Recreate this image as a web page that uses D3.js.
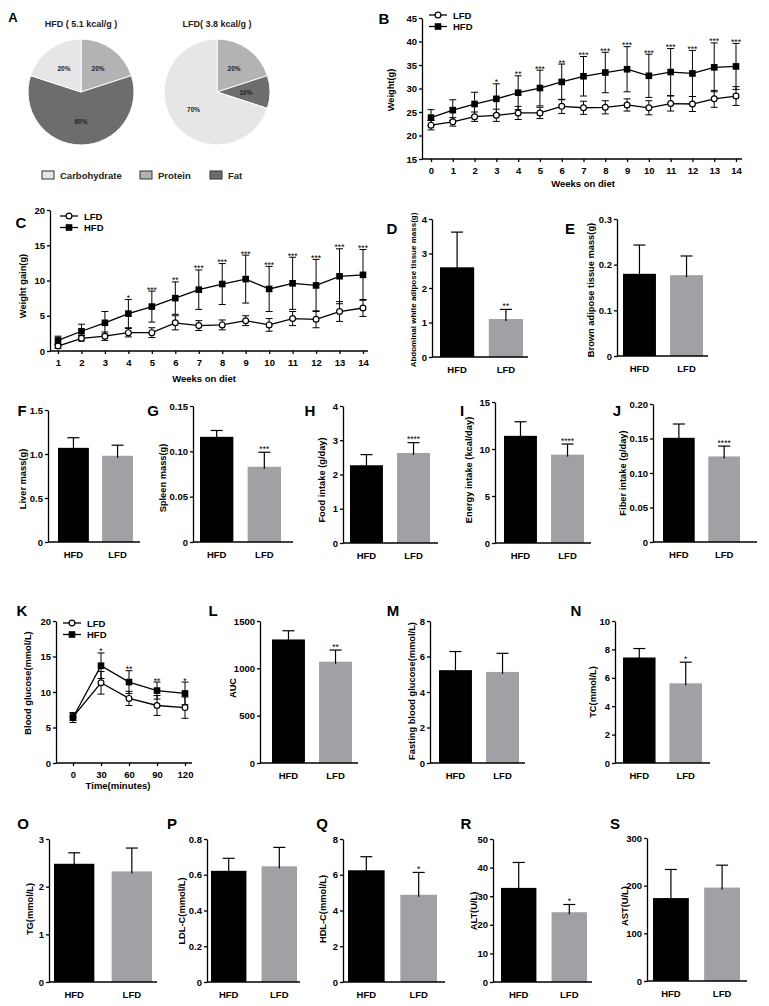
<!DOCTYPE html>
<html><head><meta charset="utf-8">
<script src="https://cdn.jsdelivr.net/npm/d3@7"></script>
<style>
body{margin:0;background:#fff}
svg{display:block;font-family:"Liberation Sans",Arial,sans-serif;font-weight:bold}
</style>
</head><body>
<svg id="c" width="769" height="1006"></svg>
<script>
// ---------------- DATA ----------------
const dietCategories = ["Carbohydrate","Protein","Fat"];
const hfdEnergyPct = [20,20,60];
const lfdEnergyPct = [70,20,10];
const pieTitles = ["HFD ( 5.1 kcal/g )","LFD( 3.8 kcal/g )"];

const groups = ["LFD","HFD"];

const weeksB = [0,1,2,3,4,5,6,7,8,9,10,11,12,13,14];
const weightHFD   = [23.8,25.4,26.7,27.8,29.1,30.1,31.4,32.6,33.4,34.1,32.7,33.5,33.2,34.5,34.7];
const weightHFDsd = [1.7,2.2,2.5,3.2,3.6,3.8,3.8,4.2,4.3,4.8,4.6,5.0,4.9,5.2,4.9];
const weightLFD   = [22.2,22.9,24.0,24.3,24.8,24.8,26.2,25.9,26.0,26.5,25.9,26.8,26.7,27.8,28.4];
const weightLFDsd = [1.0,0.9,1.0,1.3,1.4,1.2,1.5,1.4,1.4,1.3,1.5,1.6,1.6,1.8,2.0];
const weightStars = ["","","","*","**","***","**","***","***","***","***","***","***","***","***"];
const weightTicks = ["15","20","25","30","35","40","45"];

const weeksC = [1,2,3,4,5,6,7,8,9,10,11,12,13,14];
const gainHFD   = [1.5,2.8,4.0,5.3,6.3,7.5,8.7,9.5,10.2,8.8,9.6,9.3,10.6,10.8];
const gainHFDsd = [0.6,1.0,1.6,2.0,2.2,2.3,2.8,2.9,3.4,3.2,3.7,3.7,3.9,3.6];
const gainLFD   = [0.7,1.8,2.1,2.6,2.6,4.0,3.6,3.7,4.3,3.7,4.6,4.5,5.6,6.1];
const gainLFDsd = [0.3,0.4,0.6,0.6,0.7,1.0,0.7,0.7,0.7,0.9,1.0,1.2,1.4,1.2];
const gainStars = ["","","","*","***","**","***","***","***","***","***","***","***","***"];
const gainTicks = ["0","5","10","15","20"];

const ogttTimes = [0,30,60,90,120];
const glucoseHFD   = [6.4,13.7,11.4,10.2,9.8];
const glucoseHFDsd = [0.7,1.8,1.6,1.2,1.6];
const glucoseLFD   = [6.5,11.3,9.1,8.1,7.8];
const glucoseLFDsd = [0.5,1.6,1.0,1.4,1.5];
const glucoseStars = ["","*","**","**","*"];
const glucoseTicks = ["0","5","10","15","20"];

const barGroups = ["HFD","LFD"];
const barPanels = ["D","E","F","G","H","I","J","L","M","N","O","P","Q","R","S"];
const barYLabels = ["Abdominal white adipose tissue mass(g)","Brown adipose tissue mass(g)","Liver mass(g)",
  "Spleen mass(g)","Food intake (g/day)","Energy intake (kcal/day)","Fiber intake (g/day)","AUC",
  "Fasting blood glucose(mmol/L)","TC(mmol/L)","TG(mmol/L)","LDL-C(mmol/L)","HDL-C(mmol/L)","ALT(U/L)","AST(U/L)"];
const barHFD   = [2.6, 0.180, 1.07, 0.116, 2.27, 11.4, 0.151, 1305, 5.23, 7.43, 2.48, 0.622, 6.25, 32.9, 174];
const barHFDsd = [1.02,0.063, 0.115,0.007, 0.31, 1.5,  0.020, 92,   1.05, 0.63, 0.23, 0.070, 0.76, 8.9,  60];
const barLFD   = [1.10,0.177, 0.98, 0.083, 2.63, 9.4,  0.124, 1070, 5.13, 5.61, 2.32, 0.647, 4.88, 24.4, 196];
const barLFDsd = [0.28,0.042, 0.12, 0.016, 0.30, 1.13, 0.015, 123,  1.05, 1.49, 0.49, 0.106, 1.25, 2.7,  47];
const barStars = ["**","","","***","****","****","****","**","","*","","","*","*",""];
const barTickLabels = [
  ["0","1","2","3","4"],["0","0.1","0.2","0.3"],["0","0.5","1.0","1.5"],["0","0.05","0.10","0.15"],
  ["0","1","2","3","4"],["0","5","10","15"],["0","0.05","0.10","0.15","0.20"],["0","500","1000","1500"],
  ["0","2","4","6","8"],["0","2","4","6","8","10"],["0","1","2","3"],["0","0.2","0.4","0.6","0.8"],
  ["0","2","4","6","8"],["0","10","20","30","40","50"],["0","100","200","300"]];

// ---------------- LAYOUT ----------------
const barLayout = [
  {ax:432,b0:440,b1:523,end:528,yTop:219,yBot:357,lx:392,ly:228,yx:413,yy:290,fs:8},
  {ax:617,b0:623,b1:703,end:708,yTop:219,yBot:356,lx:570,ly:228,yx:591,yy:290,fs:9.3},
  {ax:48,b0:58,b1:133,end:140,yTop:410,yBot:542,lx:22,ly:410,yx:23,yy:479,fs:9.3},
  {ax:193,b0:200,b1:281,end:293,yTop:406,yBot:542,lx:153,ly:410,yx:163,yy:478,fs:9.3},
  {ax:343,b0:350,b1:430,end:438,yTop:406,yBot:543,lx:310,ly:410,yx:322,yy:480,fs:9.3},
  {ax:495,b0:504,b1:584,end:591,yTop:402,yBot:543,lx:462,ly:410,yx:469,yy:470,fs:9.3},
  {ax:653,b0:663,b1:740,end:757,yTop:404,yBot:542,lx:617,ly:410,yx:623,yy:473,fs:9.3},
  {ax:260,b0:272,b1:352,end:358,yTop:621,yBot:763,lx:213,ly:610,yx:233,yy:688,fs:9.3},
  {ax:430,b0:439,b1:519,end:525,yTop:621,yBot:763,lx:393,ly:610,yx:412,yy:691,fs:9.3},
  {ax:615,b0:623,b1:702,end:710,yTop:621,yBot:763,lx:576,ly:610,yx:593,yy:692,fs:9.3},
  {ax:49,b0:54,b1:152,end:157,yTop:839,yBot:982,lx:23,ly:823,yx:30,yy:909,fs:9.3},
  {ax:207,b0:211,b1:297,end:300,yTop:839,yBot:982,lx:172,ly:823,yx:182,yy:911,fs:9.3},
  {ax:343,b0:348,b1:437,end:445,yTop:839,yBot:982,lx:322,ly:823,yx:323,yy:909,fs:9.3},
  {ax:493,b0:501,b1:587,end:592,yTop:839,yBot:982,lx:466,ly:823,yx:474,yy:911,fs:9.3},
  {ax:647,b0:653,b1:740,end:747,yTop:838,yBot:981,lx:615,ly:823,yx:625,yy:906,fs:9.3}
];
const LFD_GRAY = "#a0a0a5";
const svg = d3.select("#c");

function letter(t,x,y,fs){
  svg.append("text").attr("x",x).attr("y",y).attr("text-anchor","middle")
    .attr("dominant-baseline","central").attr("font-size",fs||15).text(t);
}
function yLabel(t,x,y,fs){
  svg.append("text").attr("transform",`translate(${x},${y}) rotate(-90)`)
    .attr("text-anchor","middle").attr("dominant-baseline","central").attr("font-size",fs).text(t);
}
function styleAxis(g){
  g.attr("font-family",null).attr("font-size",9.5).attr("font-weight","bold");
  g.selectAll("path,line").attr("stroke","#000").attr("stroke-width",1.3);
  g.selectAll("text").attr("fill","#000");
}

// ---------------- PANEL A (pies) ----------------
letter("A",13,17,13);
const pieR = 53;
const pieCenters = [[81,92],[217,92]];
const pieDrawOrder = ["Protein","Fat","Carbohydrate"];
const pieColor = d3.scaleOrdinal().domain(dietCategories).range(["#e6e6e6","#b3b3b3","#6d6d6d"]);
[hfdEnergyPct, lfdEnergyPct].forEach((pct,k)=>{
  const data = pieDrawOrder.map(c=>({cat:c, v:pct[dietCategories.indexOf(c)]}));
  const arcs = d3.pie().sort(null).value(d=>d.v)(data);
  const g = svg.append("g").attr("transform",`translate(${pieCenters[k][0]},${pieCenters[k][1]})`);
  g.selectAll("path").data(arcs).join("path")
    .attr("d", d3.arc().innerRadius(0).outerRadius(pieR))
    .attr("fill",d=>pieColor(d.data.cat)).attr("stroke","#fff").attr("stroke-width",1);
  const la = d3.arc().innerRadius(29).outerRadius(29);
  g.selectAll("text").data(arcs).join("text")
    .attr("transform",d=>`translate(${la.centroid(d)})`)
    .attr("text-anchor","middle").attr("dominant-baseline","central")
    .attr("font-size",6.5).attr("fill","#222").text(d=>d.data.v+"%");
  svg.append("text").attr("x",pieCenters[k][0]).attr("y",27).attr("text-anchor","middle")
    .attr("font-size",9).attr("fill","#222").text(pieTitles[k]);
});
const legX = [42,140,210];
dietCategories.forEach((c,i)=>{
  svg.append("rect").attr("x",legX[i]).attr("y",171).attr("width",12).attr("height",8)
    .attr("fill",pieColor(c)).attr("stroke","#333").attr("stroke-width",1);
  svg.append("text").attr("x",legX[i]+18).attr("y",179).attr("font-size",9.5).attr("fill","#222").text(c);
});

// ---------------- LINE PANELS ----------------
function linePanel(L, xs, hfd, hfdSd, lfd, lfdSd, stars, yTickLabels){
  const x = d3.scaleLinear().domain(L.xDom).range(L.xRange);
  const yv = yTickLabels.map(Number);
  const y = d3.scaleLinear().domain([yv[0], yv[yv.length-1]]).range([L.yBot, L.yTop]);
  // y axis
  const ga = svg.append("g").attr("transform",`translate(${L.ax},0)`)
    .call(d3.axisLeft(y).tickValues(yv).tickFormat((d,i)=>yTickLabels[i]).tickSize(3).tickSizeOuter(0).tickPadding(2));
  styleAxis(ga);
  // x axis
  const gx = svg.append("g").attr("transform",`translate(0,${L.yBot})`)
    .call(d3.axisBottom(x).tickValues(xs).tickFormat(d=>d).tickSize(3).tickPadding(5));
  gx.select(".domain").remove();
  styleAxis(gx);
  svg.append("line").attr("x1",L.ax).attr("x2",L.end).attr("y1",L.yBot).attr("y2",L.yBot)
    .attr("stroke","#000").attr("stroke-width",1.3);
  svg.append("text").attr("x",L.xlx).attr("y",L.xly).attr("text-anchor","middle").attr("font-size",9.5).text(L.xLabel);
  yLabel(L.yLabel, L.ylx, L.yly, 9.3);
  letter(L.letter, L.lx, L.ly);
  const series = [{m:lfd,s:lfdSd,g:"LFD"},{m:hfd,s:hfdSd,g:"HFD"}];
  const cap = 3.5;
  series.forEach(S=>{
    const g = svg.append("g").attr("stroke","#000").attr("stroke-width",1);
    xs.forEach((xv,i)=>{
      const cx = x(xv), t = y(S.m[i]+S.s[i]), b = y(S.m[i]-S.s[i]);
      g.append("line").attr("x1",cx).attr("x2",cx).attr("y1",t).attr("y2",b);
      g.append("line").attr("x1",cx-cap).attr("x2",cx+cap).attr("y1",t).attr("y2",t);
      g.append("line").attr("x1",cx-cap).attr("x2",cx+cap).attr("y1",b).attr("y2",b);
    });
  });
  series.forEach(S=>{
    svg.append("path").datum(xs.map((xv,i)=>[xv,S.m[i]]))
      .attr("d", d3.line().x(d=>x(d[0])).y(d=>y(d[1])))
      .attr("fill","none").attr("stroke","#000").attr("stroke-width",1.3);
    xs.forEach((xv,i)=>{
      if (S.g==="LFD") svg.append("circle").attr("cx",x(xv)).attr("cy",y(S.m[i])).attr("r",2.9)
          .attr("fill","#fff").attr("stroke","#000").attr("stroke-width",1.2);
      else svg.append("rect").attr("x",x(xv)-3.3).attr("y",y(S.m[i])-3.3).attr("width",6.6).attr("height",6.6).attr("fill","#000");
    });
  });
  xs.forEach((xv,i)=>{
    if (!stars[i]) return;
    svg.append("text").attr("x",x(xv)).attr("y",y(hfd[i]+hfdSd[i])+1.5).attr("text-anchor","middle")
      .attr("font-size",8.5).attr("font-weight","normal").text(stars[i]);
  });
  // legend
  groups.forEach((gname,k)=>{
    const ly = L.legY + k*11.5, lx = L.legX;
    svg.append("line").attr("x1",lx).attr("x2",lx+18).attr("y1",ly).attr("y2",ly).attr("stroke","#000").attr("stroke-width",1.3);
    if (gname==="LFD") svg.append("circle").attr("cx",lx+9).attr("cy",ly).attr("r",2.9).attr("fill","#fff").attr("stroke","#000").attr("stroke-width",1.2);
    else svg.append("rect").attr("x",lx+9-3.3).attr("y",ly-3.3).attr("width",6.6).attr("height",6.6).attr("fill","#000");
    svg.append("text").attr("x",lx+24).attr("y",ly).attr("dominant-baseline","central").attr("font-size",9.5).text(gname);
  });
}

linePanel({ax:422,end:742,xDom:[0,14],xRange:[431,736],yTop:18,yBot:159,
  xLabel:"Weeks on diet",xlx:583,xly:187,yLabel:"Weight(g)",ylx:391,yly:90,
  letter:"B",lx:384,ly:18,legX:429,legY:15},
  weeksB, weightHFD, weightHFDsd, weightLFD, weightLFDsd, weightStars, weightTicks);

linePanel({ax:50,end:368,xDom:[1,14],xRange:[58,363],yTop:210,yBot:351,
  xLabel:"Weeks on diet",xlx:204,xly:382,yLabel:"Weight gain(g)",ylx:23,yly:286,
  letter:"C",lx:21,ly:222,legX:60,legY:216},
  weeksC, gainHFD, gainHFDsd, gainLFD, gainLFDsd, gainStars, gainTicks);

linePanel({ax:56,end:192,xDom:[0,120],xRange:[73,185],yTop:621,yBot:763,
  xLabel:"Time(minutes)",xlx:118,xly:789,yLabel:"Blood glucose(mmol/L)",ylx:28,yly:683,
  letter:"K",lx:22,ly:610,legX:63,legY:623},
  ogttTimes, glucoseHFD, glucoseHFDsd, glucoseLFD, glucoseLFDsd, glucoseStars, glucoseTicks);

// ---------------- BAR PANELS ----------------
barPanels.forEach((p,i)=>{
  const L = barLayout[i];
  const labels = barTickLabels[i];
  const vals = labels.map(Number);
  const y = d3.scaleLinear().domain([0, vals[vals.length-1]]).range([L.yBot, L.yTop]);
  const x = d3.scaleBand().domain(barGroups).range([L.b0, L.b1]).paddingInner(0.3).paddingOuter(0);
  const means = [barHFD[i], barLFD[i]], sds = [barHFDsd[i], barLFDsd[i]];
  svg.append("g").selectAll("rect").data(barGroups).join("rect")
    .attr("x",d=>x(d)).attr("width",x.bandwidth())
    .attr("y",(d,j)=>y(means[j])).attr("height",(d,j)=>L.yBot - y(means[j]))
    .attr("fill",(d,j)=>j ? LFD_GRAY : "#000");
  barGroups.forEach((d,j)=>{
    const cx = x(d) + x.bandwidth()/2, top = y(means[j]+sds[j]), mid = y(means[j]);
    svg.append("line").attr("x1",cx).attr("x2",cx).attr("y1",mid+2).attr("y2",top).attr("stroke","#000").attr("stroke-width",1.2);
    svg.append("line").attr("x1",cx-6).attr("x2",cx+6).attr("y1",top).attr("y2",top).attr("stroke","#000").attr("stroke-width",1.2);
    if (j===1 && barStars[i]) {
      svg.append("text").attr("x",cx).attr("y",top-0.5).attr("text-anchor","middle")
        .attr("font-size",8.5).attr("font-weight","normal").text(barStars[i]);
    }
    svg.append("text").attr("x",cx).attr("y",L.yBot+15.5).attr("text-anchor","middle").attr("font-size",9.5).text(d);
  });
  const ga = svg.append("g").attr("transform",`translate(${L.ax},0)`)
    .call(d3.axisLeft(y).tickValues(vals).tickFormat((d,k)=>labels[k]).tickSize(3).tickSizeOuter(0).tickPadding(2));
  styleAxis(ga);
  svg.append("line").attr("x1",L.ax).attr("x2",L.end).attr("y1",L.yBot).attr("y2",L.yBot)
    .attr("stroke","#000").attr("stroke-width",1.3);
  letter(p, L.lx, L.ly);
  yLabel(barYLabels[i], L.yx, L.yy, L.fs);
});
</script>
</body></html>
